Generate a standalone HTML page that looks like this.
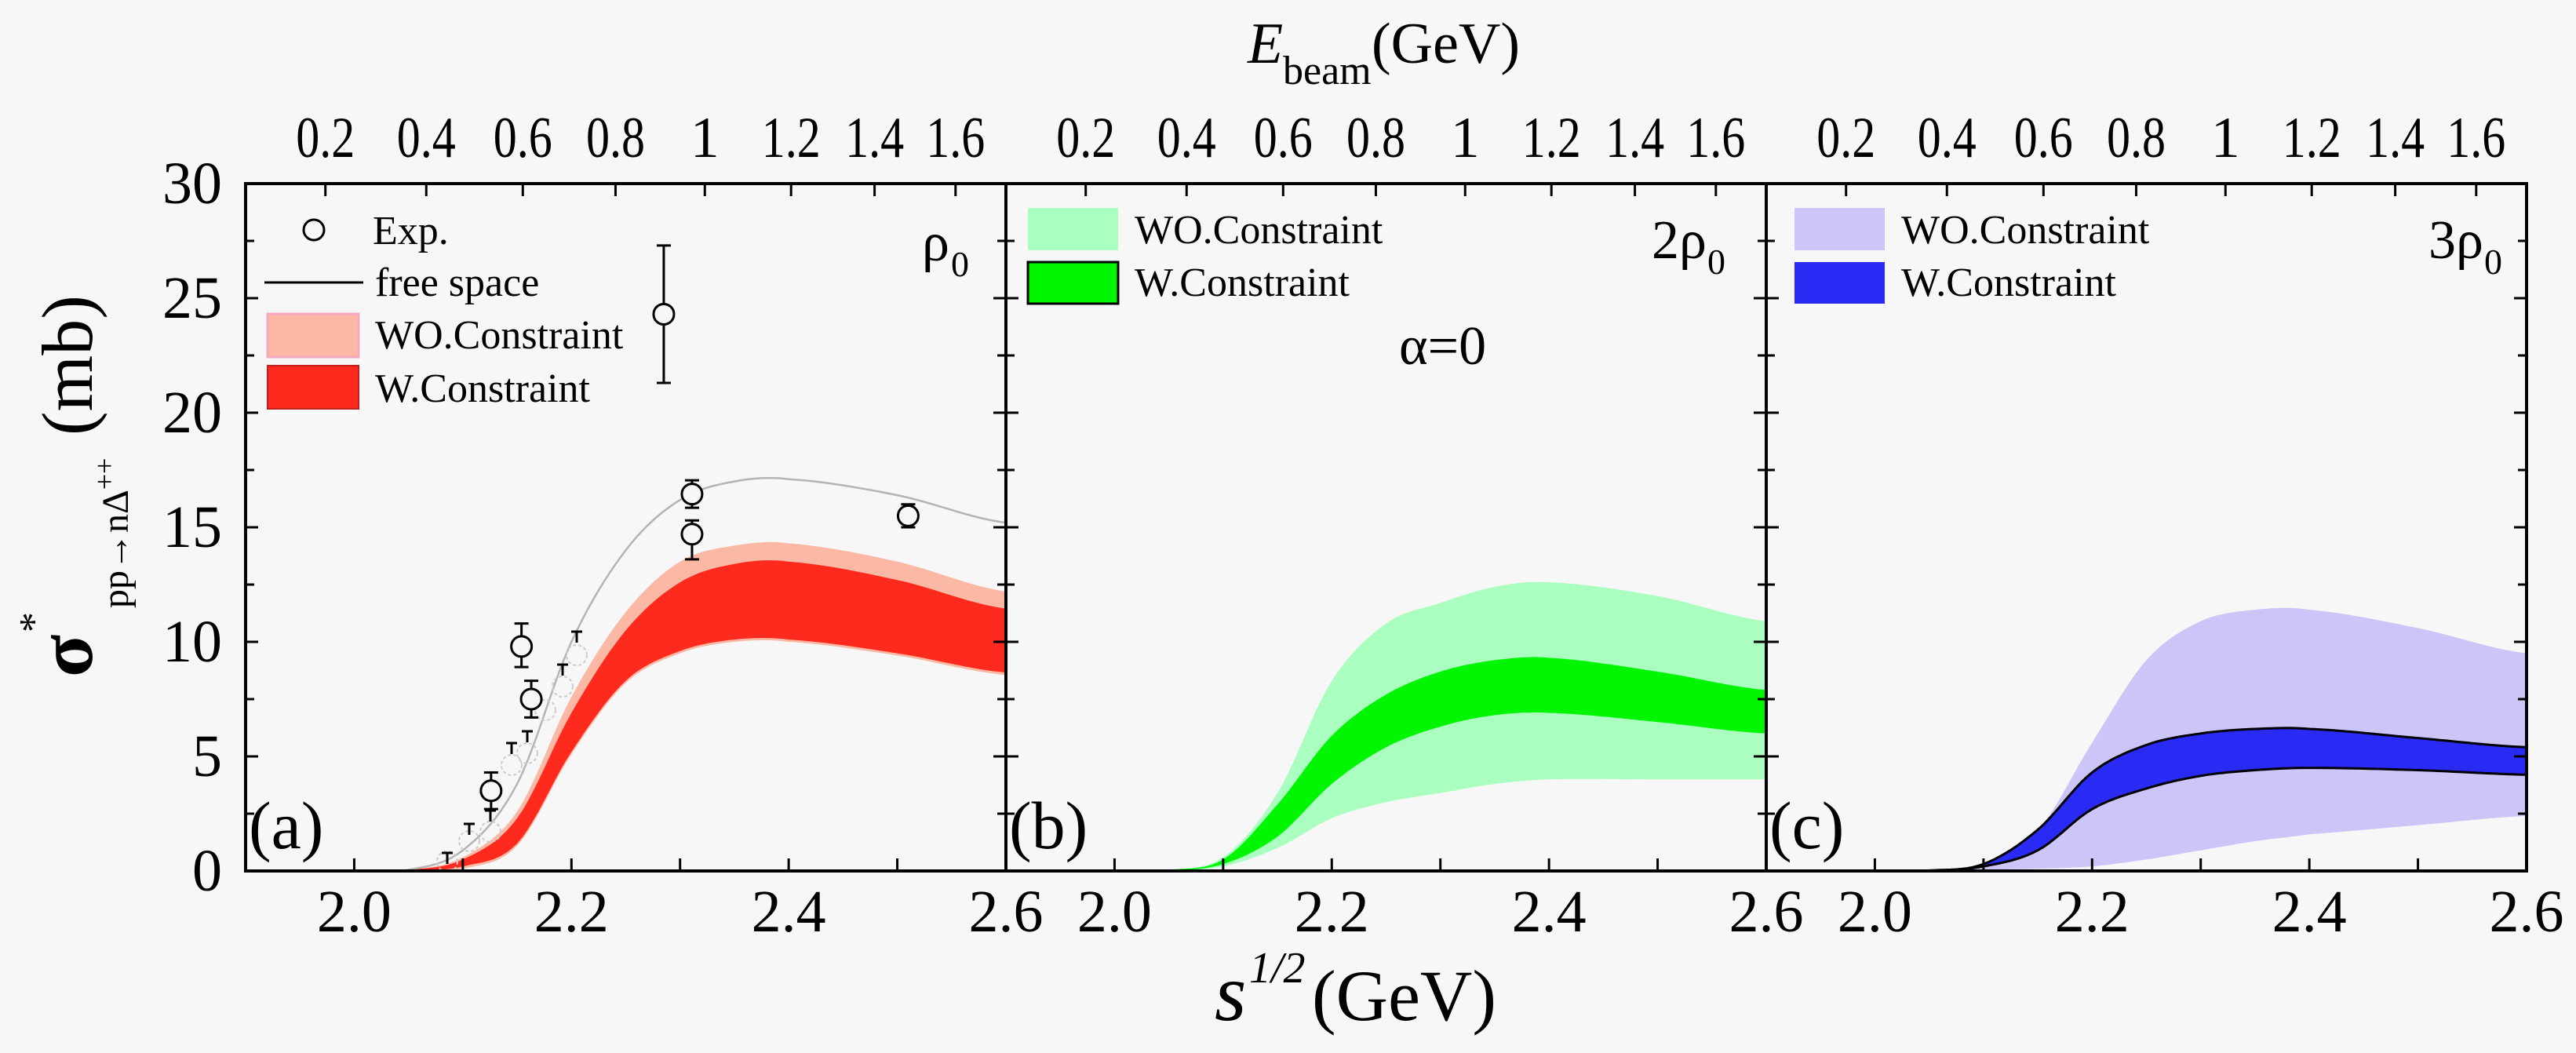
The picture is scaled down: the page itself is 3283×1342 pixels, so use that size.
<!DOCTYPE html>
<html><head><meta charset="utf-8">
<style>
html,body{margin:0;padding:0;background:#f7f7f7;}
svg{display:block;font-family:"Liberation Serif",serif;}
</style></head>
<body>
<svg id="s" width="3283" height="1342" viewBox="0 0 3283 1342" xmlns="http://www.w3.org/2000/svg">
<rect width="3283" height="1342" fill="#f7f7f7"/>
<g id="plots"></g>
<text x="1590" y="80" font-size="74" font-style="italic">E</text>
<text x="1635" y="107" font-size="52">beam</text>
<text x="1748" y="80" font-size="74">(GeV)</text>
<text x="1548" y="1300" font-size="104" font-style="italic">s</text>
<text x="1592" y="1252" font-size="56" font-style="italic">1/2</text>
<text x="1672" y="1300" font-size="92">(GeV)</text>
<g transform="translate(117,0) rotate(-90)">
<text x="-863" y="0" font-size="100" font-weight="bold">σ</text>
<text x="-806" y="-57" font-size="52">*</text>
<text x="-775" y="46" font-size="48">pp→nΔ<tspan dy="-18" font-size="36">++</tspan></text>
<text x="-555" y="0" font-size="92">(mb)</text>
</g>
</svg>
<script>
(function(){
const NS="http://www.w3.org/2000/svg";
const g=document.getElementById('plots');
function el(t,a,txt){const e=document.createElementNS(NS,t);for(const k in a)e.setAttribute(k,a[k]);if(txt!==undefined)e.textContent=txt;g.appendChild(e);return e;}
const T=234,B=1110,W=969;
const lefts=[313,1282,2251];
const xs=[2.0,2.05,2.1,2.15,2.2,2.25,2.3,2.35,2.4,2.5,2.6];
function interp(ys,x){
  let i=0;while(i<xs.length-2&&x>xs[i+1])i++;
  const p0=ys[Math.max(i-1,0)],p1=ys[i],p2=ys[i+1],p3=ys[Math.min(i+2,ys.length-1)];
  const t=(x-xs[i])/(xs[i+1]-xs[i]);
  const t2=t*t,t3=t2*t;
  return 0.5*((2*p1)+(-p0+p2)*t+(2*p0-5*p1+4*p2-p3)*t2+(-p0+3*p1-3*p2+p3)*t3);
}
function px(L,x){return L+(x-1.9)/0.7*W;}
function py(v){return B-v/30*(B-T);}
function curvePts(L,ys,x0){const r=[];for(let x=x0;x<=2.6001;x+=0.005){let v=Math.max(0,interp(ys,x));r.push([px(L,x),py(v)]);}return r;}
function band(L,up,lo,fill,x0){
  const a=curvePts(L,up,x0),b=curvePts(L,lo,x0).reverse();
  const d='M'+a.concat(b).map(p=>p[0].toFixed(1)+','+p[1].toFixed(1)).join('L')+'Z';
  el('path',{d:d,fill:fill,stroke:'none'});
}
function line(L,ys,stroke,w,x0){
  const a=curvePts(L,ys,x0);
  el('path',{d:'M'+a.map(p=>p[0].toFixed(1)+','+p[1].toFixed(1)).join('L'),fill:'none',stroke:stroke,'stroke-width':w});
}
const L0=lefts[0];
band(L0,[0,0.05,0.6,2.6,7.6,11.3,13.5,14.2,14.3,13.5,12.2],[0,0,0.1,1.1,5.1,8.2,9.5,10.0,10.0,9.4,8.55],'#fbb9a5',2.04);
band(L0,[0,0.05,0.5,2.3,6.9,10.5,12.6,13.4,13.5,12.7,11.45],[0,0,0.2,1.2,5.2,8.3,9.6,10.1,10.1,9.5,8.66],'#ff2a1e',2.04);
line(L0,[0,0.05,0.9,3.8,10.0,14.0,16.2,17.0,17.1,16.4,15.2],'#b4b4b4',2.5,2.04);
const gp=[[735,835,805],[717,875,847],[695,905,0],[672,960,932],[652,975,947],[625,1060,1033],[598,1072,1050],[570,1098,1087]];
gp.forEach(p=>{el('circle',{cx:p[0],cy:p[1],r:13,fill:'none',stroke:'#ccc','stroke-width':2,'stroke-dasharray':'4 3'});
 if(p[2]){el('line',{x1:p[0],y1:p[2],x2:p[0],y2:p[2]+14,stroke:'#000','stroke-width':3});el('line',{x1:p[0]-7,y1:p[2],x2:p[0]+7,y2:p[2],stroke:'#000','stroke-width':3});}});
const ep=[[2.285,24.3,27.3,21.3],[2.311,16.45,17.05,15.85],[2.311,14.7,15.3,13.6],[2.51,15.5,16.0,15.0],[2.154,9.8,10.8,8.9],[2.163,7.5,8.3,6.7],[2.126,3.5,4.3,2.7]];
ep.forEach(p=>{const x=px(L0,p[0]);
 el('line',{x1:x,y1:py(p[2]),x2:x,y2:py(p[3]),stroke:'#000','stroke-width':3});
 el('line',{x1:x-9,y1:py(p[2]),x2:x+9,y2:py(p[2]),stroke:'#000','stroke-width':3});
 el('line',{x1:x-9,y1:py(p[3]),x2:x+9,y2:py(p[3]),stroke:'#000','stroke-width':3});
 el('circle',{cx:x,cy:py(p[1]),r:13,fill:'#f7f7f7',stroke:'#000','stroke-width':3});});
const L1=lefts[1];
band(L1,[0,0.05,0.6,3.4,8.3,10.8,11.7,12.4,12.6,12.0,10.9],[0,0,0.2,1.0,2.3,3.0,3.4,3.8,4.0,4.0,4.0],'#aaffc0',2.04);
band(L1,[0,0.05,0.5,2.9,5.9,7.7,8.7,9.2,9.3,8.7,7.9],[0,0,0.3,1.5,3.8,5.4,6.3,6.8,6.9,6.5,6.0],'#00f500',2.04);
const L2=lefts[2];
band(L2,[0,0.05,0.3,1.75,5.6,9.2,10.9,11.4,11.4,10.6,9.5],[0,0,0.05,0.1,0.2,0.5,0.9,1.3,1.6,2.0,2.4],'#cbc6f7',2.04);
const bu=[0,0.02,0.3,1.8,4.3,5.5,6.0,6.2,6.2,5.8,5.4],bl=[0,0,0.2,0.9,2.7,3.6,4.15,4.4,4.5,4.4,4.2];
band(L2,bu,bl,'#2a2af5',2.04);
line(L2,bu,'#000',3,2.04);line(L2,bl,'#000',3,2.04);
const m=0.938;
function ebx(T){return Math.sqrt(4*m*m+2*m*T);}
const labs=['(a)','(b)','(c)'];
lefts.forEach((L,i)=>{
  el('rect',{x:L,y:T,width:W,height:B-T,fill:'none',stroke:'#000','stroke-width':4});
  for(let k=0;k<=12;k++){const y=py(k*2.5);const len=(k%2==0)?16:11;
    el('line',{x1:L,y1:y,x2:L+len,y2:y,stroke:'#000','stroke-width':3});
    el('line',{x1:L+W,y1:y,x2:L+W-len,y2:y,stroke:'#000','stroke-width':3});}
  for(let k=1;k<=7;k++){const x=px(L,1.9+k*0.1);
    el('line',{x1:x,y1:B,x2:x,y2:B-16,stroke:'#000','stroke-width':3});}
  [2.0,2.2,2.4,2.6].forEach(v=>el('text',{x:px(L,v),y:1187,'font-size':76,'text-anchor':'middle'},v.toFixed(1)));
  ['0.2','0.4','0.6','0.8','1','1.2','1.4','1.6'].forEach(s=>{const x=px(L,ebx(parseFloat(s)));
    el('line',{x1:x,y1:T,x2:x,y2:T+16,stroke:'#000','stroke-width':3});
    const a={x:x,y:200,'font-size':74,'text-anchor':'middle'};
    if(s.length>1){a.textLength=s.length*25;a.lengthAdjust='spacingAndGlyphs';}
    el('text',a,s);});
  el('text',{x:L+4,y:1081,'font-size':86},labs[i]);
});
for(let k=0;k<=6;k++){el('text',{x:283,y:py(k*5)+25,'font-size':76,'text-anchor':'end'},String(k*5));}
el('circle',{cx:400,cy:293,r:13,fill:'none',stroke:'#000','stroke-width':3});
el('text',{x:475,y:311,'font-size':52},'Exp.');
el('line',{x1:337,y1:360,x2:463,y2:360,stroke:'#000','stroke-width':3});
el('text',{x:478,y:377,'font-size':52},'free space');
el('rect',{x:341,y:400,width:116,height:55,fill:'#fbb9a5',stroke:'#f4a8c0','stroke-width':3});
el('text',{x:478,y:444,'font-size':52},'WO.Constraint');
el('rect',{x:341,y:466,width:116,height:55,fill:'#ff2a1e',stroke:'#c02020','stroke-width':2});
el('text',{x:478,y:512,'font-size':52},'W.Constraint');
el('text',{x:1175,y:332,'font-size':70},'ρ');el('text',{x:1212,y:352,'font-size':46},'0');
el('rect',{x:1310,y:265,width:115,height:54,fill:'#aaffc0'});
el('text',{x:1446,y:310,'font-size':52},'WO.Constraint');
el('rect',{x:1310,y:334,width:115,height:53,fill:'#00f500',stroke:'#000','stroke-width':3});
el('text',{x:1446,y:377,'font-size':52},'W.Constraint');
el('text',{x:2105,y:329,'font-size':70},'2ρ');el('text',{x:2176,y:349,'font-size':46},'0');
el('text',{x:1783,y:464,'font-size':70},'α=0');
el('rect',{x:2287,y:265,width:115,height:54,fill:'#cbc6f7'});
el('text',{x:2423,y:310,'font-size':52},'WO.Constraint');
el('rect',{x:2287,y:334,width:115,height:53,fill:'#2a2af5'});
el('text',{x:2423,y:377,'font-size':52},'W.Constraint');
el('text',{x:3095,y:329,'font-size':70},'3ρ');el('text',{x:3166,y:349,'font-size':46},'0');
})();
</script>
</body></html>
